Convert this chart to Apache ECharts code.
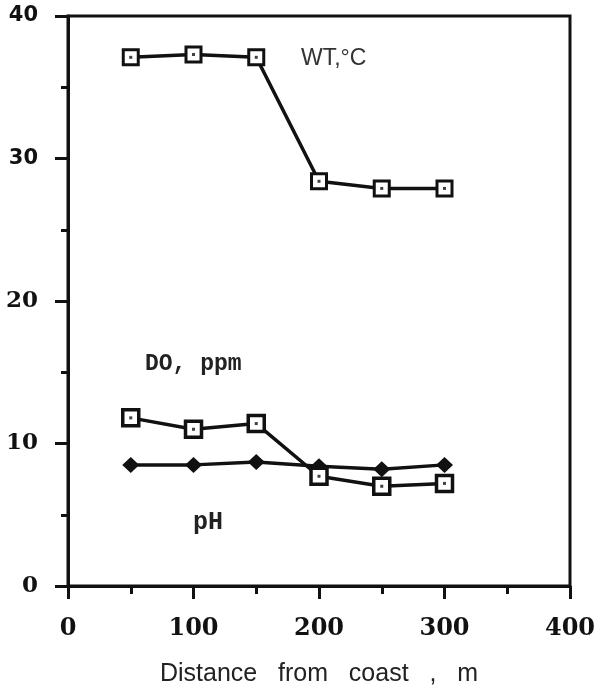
<!DOCTYPE html>
<html>
<head>
<meta charset="utf-8">
<script src="https://cdn.jsdelivr.net/npm/echarts@6/dist/echarts.min.js"></script>
<style>
  html, body { margin: 0; padding: 0; background: #fff; }
  #chart { width: 595px; height: 686px; }
</style>
</head>
<body>
<div id="chart"></div>
<script>
// Data
var distances = [50, 100, 150, 200, 250, 300];          // m
var wtValues  = [37.1, 37.3, 37.1, 28.4, 27.9, 27.9];   // water temperature, °C
var doValues  = [11.8, 11.0, 11.4, 7.7, 7.0, 7.2];      // dissolved oxygen, ppm
var phValues  = [8.5, 8.5, 8.7, 8.4, 8.2, 8.5];         // pH
var xTicks = [0, 100, 200, 300, 400];
var yTicks = [0, 10, 20, 30, 40];
var xAxisTitle = 'Distance   from   coast   ,   m';
var seriesLabels = { wt: 'WT,°C', do: 'DO, ppm', ph: 'pH' };

function pairs(xs, ys) { return xs.map(function (x, i) { return [x, ys[i]]; }); }

var ink = '#111';
var chart = echarts.init(document.getElementById('chart'), null, { renderer: 'canvas' });

function squareSeries(name, vals, size, bw) {
  return [{
    name: name, type: 'line', data: pairs(distances, vals),
    symbol: 'rect', symbolSize: size, showAllSymbol: true,
    lineStyle: { color: ink, width: 3.5 },
    itemStyle: { color: '#fff', borderColor: ink, borderWidth: bw },
    z: 3, animation: false
  }, {
    name: name + '-dot', type: 'scatter', data: pairs(distances, vals),
    symbol: 'rect', symbolSize: 3, itemStyle: { color: ink }, z: 4, animation: false
  }];
}

var option = {
  backgroundColor: '#fff',
  animation: false,
  grid: {
    left: 68, right: 25, top: 16, bottom: 100, containLabel: false, outerBoundsMode: 'none',
    show: true, borderColor: ink, borderWidth: 3, backgroundColor: 'transparent'
  },
  xAxis: {
    type: 'value', min: xTicks[0], max: xTicks[xTicks.length - 1], interval: 100,
    axisLine: { show: true, onZero: false, lineStyle: { color: ink, width: 3 } },
    axisTick: { show: true, length: 13, lineStyle: { color: ink, width: 3 } },
    minorTick: { show: true, splitNumber: 2, length: 8, lineStyle: { color: ink, width: 3 } },
    splitLine: { show: false },
    axisLabel: { margin: 31, color: ink, fontFamily: 'DejaVu Serif', fontWeight: 'bold', fontSize: 24 },
    name: xAxisTitle, nameLocation: 'middle', nameGap: 76,
    nameTextStyle: { color: '#222', fontFamily: 'Liberation Sans', fontSize: 25 }
  },
  yAxis: {
    type: 'value', min: yTicks[0], max: yTicks[yTicks.length - 1], interval: 10,
    axisLine: { show: true, onZero: false, lineStyle: { color: ink, width: 3 } },
    axisTick: { show: true, length: 13, lineStyle: { color: ink, width: 3 } },
    minorTick: { show: true, splitNumber: 2, length: 7, lineStyle: { color: ink, width: 3 } },
    splitLine: { show: false },
    axisLabel: {
      margin: 30, color: ink, fontSize: 24, fontWeight: 'bold', fontFamily: 'DejaVu Serif',
      formatter: function (v) { return v >= 30 ? '{s|' + v + '}' : '{r|' + v + '}'; },
      rich: {
        s: { fontFamily: 'DejaVu Sans', fontWeight: 'bold', fontSize: 21, color: ink },
        r: { fontFamily: 'DejaVu Serif', fontWeight: 'bold', fontSize: 23, color: ink }
      }
    }
  },
  graphic: [
    { type: 'text', left: 301, top: 47, style: { text: seriesLabels.wt, fill: '#333', font: '23px "Liberation Sans"' } },
    { type: 'text', left: 145, top: 353, style: { text: seriesLabels.do, fill: '#222', font: 'bold 23px "Liberation Mono"' } },
    { type: 'text', left: 193, top: 510, style: { text: seriesLabels.ph, fill: '#222', font: 'bold 25px "Liberation Mono"' } }
  ],
  series: [].concat(
    squareSeries('WT', wtValues, 15, 3),
    squareSeries('DO', doValues, 16, 3.5),
    [{
      name: 'pH', type: 'line', data: pairs(distances, phValues),
      symbol: 'diamond', symbolSize: [17, 16], showAllSymbol: true,
      lineStyle: { color: ink, width: 3.5 },
      itemStyle: { color: ink }, z: 2, animation: false
    }]
  )
};
chart.setOption(option);
</script>
</body>
</html>
